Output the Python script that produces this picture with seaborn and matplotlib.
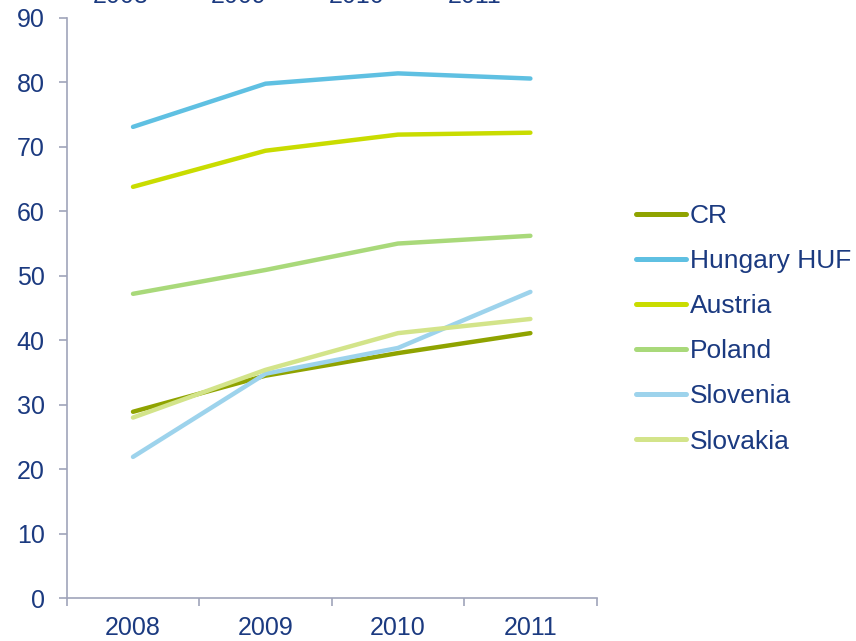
import matplotlib
matplotlib.use("Agg")
import pandas as pd
import numpy as np
import matplotlib.pyplot as plt
import seaborn as sns
from matplotlib.ticker import FixedLocator

# data
years = [2008, 2009, 2010, 2011]
countries = ["CR", "Hungary HUF", "Austria", "Poland", "Slovenia", "Slovakia"]
cr = [28.9, 34.5, 38.0, 41.1]
hungary = [73.1, 79.8, 81.4, 80.6]
austria = [63.8, 69.4, 71.9, 72.2]
poland = [47.2, 50.9, 55.0, 56.2]
slovenia = [21.9, 34.8, 38.8, 47.5]
slovakia = [28.0, 35.4, 41.1, 43.3]
colors = ["#8fa300", "#5fc0e2", "#c9dc00", "#a9d97a", "#9dd3ec", "#d3e48a"]

df = pd.DataFrame({
    "year": years * 6,
    "value": cr + hungary + austria + poland + slovenia + slovakia,
    "country": np.repeat(countries, 4),
})

sns.set_style("white")
plt.rcParams["font.family"] = ["Liberation Sans", "DejaVu Sans"]
text_col = "#1b3a80"
axis_col = "#a0a4ba"

fig = plt.figure(figsize=(8.56, 6.41), dpi=100)
ax = fig.add_axes([0.078, 0.067, 0.619, 0.905])

sns.lineplot(data=df, x="year", y="value", hue="country", hue_order=countries,
             palette=colors, linewidth=3.2, ax=ax, legend=True)

ax.set_xlim(2007.5, 2011.5)
ax.set_ylim(0, 90)
ax.set_yticks(range(0, 91, 10))
ax.set_xticks(years)
ax.set_xticklabels([str(y) for y in years])
ax.xaxis.set_minor_locator(FixedLocator([2007.5, 2008.5, 2009.5, 2010.5, 2011.5]))
ax.set_xlabel("")
ax.set_ylabel("")

for s in ["top", "right"]:
    ax.spines[s].set_visible(False)
for s in ["left", "bottom"]:
    ax.spines[s].set_color(axis_col)
    ax.spines[s].set_linewidth(1.2)

ax.tick_params(axis="x", which="major", length=0, pad=13, labelsize=18,
               labelcolor=text_col)
ax.tick_params(axis="x", which="minor", length=6, color=axis_col, width=1.2,
               direction="out", bottom=True)
ax.tick_params(axis="y", length=6, color=axis_col, width=1.2, direction="out",
               pad=10, labelsize=18, labelcolor=text_col, left=True)

# leftover year labels along the top edge, mostly cut off (a bit narrower spacing)
for i, y in enumerate(years):
    ax.annotate(str(y), xy=(0.102 + i * 0.2225, 1), xycoords="axes fraction",
                xytext=(0, 10.5), textcoords="offset points", ha="center",
                va="baseline", fontsize=18, color=text_col, annotation_clip=False)

handles, labels = ax.get_legend_handles_labels()
ax.get_legend().remove()
leg = fig.legend(handles, labels, loc="center left", bbox_to_anchor=(0.727, 0.487),
                 frameon=False, fontsize=19, handlelength=1.9, handletextpad=0.15,
                 labelspacing=0.8, borderpad=0)
for t in leg.get_texts():
    t.set_color(text_col)
for l in leg.get_lines():
    l.set_linewidth(3.6)

fig.savefig("out.png", dpi=100)
